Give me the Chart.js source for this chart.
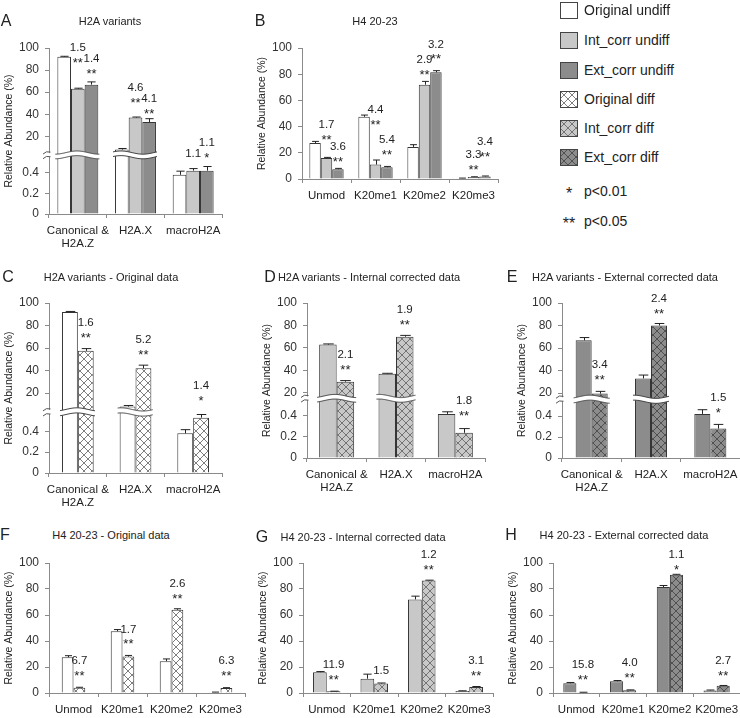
<!DOCTYPE html>
<html>
<head>
<meta charset="utf-8">
<script src="https://cdn.jsdelivr.net/npm/chart.js@4.4.1/dist/chart.umd.min.js"></script>
<style>
    html, body { margin: 0; padding: 0; background: #fff; width: 740px; height: 718px; overflow: hidden; }
    body { position: relative; font-family: "Liberation Sans", Arial, sans-serif; color: #222; }
    canvas.panel { position: absolute; }
    .letter { position: absolute; font-size: 16px; line-height: 1; transform: translate(-50%, -50%); }
    .ptitle { position: absolute; font-size: 11px; line-height: 1; white-space: nowrap; transform: translate(-50%, -50%); }
    .leg { position: absolute; left: 560px; height: 16px; font-size: 14px; line-height: 16px; white-space: nowrap; }
    .leg canvas { position: absolute; left: 0; top: 0; }
    .leg span { position: absolute; left: 24px; top: 0; }
    .leg .star { position: absolute; left: 0; width: 18px; text-align: center; top: 3px; font-size: 16px; }
</style>
</head>
<body>
<script>
/* ==================
    DATOS
================== */

const h2aCats = [["Canonical &", "H2A.Z"], "H2A.X", "macroH2A"];
const h4Cats = ["Unmod", "K20me1", "K20me2", "K20me3"];

// H2A variants, relative abundance (%) and error
const h2aOrigUndiff = [92, 8, 0.38];
const h2aOrigUndiffErr = [0.5, 1, 0.035];
const h2aIntUndiff = [63, 37, 0.42];
const h2aIntUndiffErr = [0.6, 0.5, 0.02];
const h2aExtUndiff = [66.8, 33, 0.42];
const h2aExtUndiffErr = [2.5, 3, 0.04];
const h2aOrigDiff = [57.5, 42, 0.53];
const h2aOrigDiffErr = [2, 2.8, 0.045];
const h2aIntDiff = [30, 70, 0.24];
const h2aIntDiffErr = [1, 1.2, 0.04];
const h2aExtDiff = [19.5, 80, 0.28];
const h2aExtDiffErr = [2, 1.8, 0.04];

// H4 20-23, relative abundance (%) and error
const h4OrigUndiff = [27.5, 47.5, 24.5, 0.6];
const h4OrigUndiffErr = [1.2, 1.3, 1.7, 0.1];
const h4IntUndiff = [16, 11, 72, 1.5];
const h4IntUndiffErr = [0.5, 3.5, 2.5, 0.2];
const h4ExtUndiff = [7.5, 9, 81.5, 2];
const h4ExtUndiffErr = [0.6, 0.6, 1.2, 0.3];
const h4OrigDiff = [4.1, 28, 64, 3.8];
const h4OrigDiffErr = [0.3, 0.9, 0.8, 0.3];
const h4IntDiff = [1.3, 7.3, 86.5, 4.7];
const h4IntDiffErr = [0.1, 0.4, 0.3, 0.3];
const h4ExtDiff = [0.5, 2.2, 91, 5.5];
const h4ExtDiffErr = [0.1, 0.2, 0.3, 0.3];

// tick labels
const brokenTicks = [0, 0.2, 0.4, 20, 40, 60, 80, 100];

// fold change labels: [category, bar, fold, stars, height on the % axis]
const notesA = [[0, 1, "1.5", "**", 89.4], [0, 2, "1.4", "**", 79.4], [1, 1, "4.6", "**", 53.1],
    [1, 2, "4.1", "**", 43.1], [2, 1, "1.1", "", 4], [2, 2, "1.1", "*", 2.9]];
const notesB = [[0, 1, "1.7", "**", 32.1], [0, 2, "3.6", "**", 15.3], [1, 1, "4.4", "**", 43.8],
    [1, 2, "5.4", "**", 20.4], [2, 1, "2.9", "**", 82.1], [2, 2, "3.2", "**", 93.6],
    [3, 1, "3.3", "**", 9.4], [3, 2, "3.4", "**", 19.1]];
const notesC = [[0, 1, "1.6", "**", 71.6], [1, 1, "5.2", "**", 57], [2, 1, "1.4", "*", 15.8]];
const notesD = [[0, 1, "2.1", "**", 42.8], [1, 1, "1.9", "**", 83.4], [2, 1, "1.8", "**", 0.426]];
const notesE = [[0, 1, "3.4", "**", 34.5], [1, 1, "2.4", "**", 92.9], [2, 1, "1.5", "*", 0.457]];
const notesF = [[0, 1, "6.7", "**", 15.6], [1, 1, "1.7", "**", 39.7], [2, 1, "2.6", "**", 74.4], [3, 1, "6.3", "**", 15.6]];
const notesG = [[0, 1, "11.9", "**", 12.3], [1, 1, "1.5", "", 16.9], [2, 1, "1.2", "**", 96.9], [3, 1, "3.1", "**", 15.4]];
const notesH = [[0, 1, "15.8", "**", 12.3], [1, 1, "4.0", "**", 13.8], [2, 1, "1.1", "*", 96.9], [3, 1, "2.7", "**", 15.4]];

/* ==================
    ESTILO
================== */

const FONT = '"Liberation Sans", Arial, sans-serif';
const AXIS = "#8a8a8a";
const EDGE = "#353535";
const WHITE = "#ffffff", LIGHT = "#c8c8c8", DARK = "#8c8c8c";

Chart.defaults.font.family = FONT;
Chart.defaults.color = "#222";

function hatch(fill, line) {
    const c = document.createElement("canvas");
    c.width = 8; c.height = 8;
    const g = c.getContext("2d");
    g.fillStyle = fill;
    g.fillRect(0, 0, 8, 8);
    g.strokeStyle = line;
    g.lineWidth = 0.9;
    g.beginPath();
    g.moveTo(-1, -1); g.lineTo(9, 9);
    g.moveTo(9, -1); g.lineTo(-1, 9);
    g.stroke();
    return g.createPattern(c, "repeat");
}

const WHITE_X = hatch(WHITE, "#707070");
const LIGHT_X = hatch(LIGHT, "#6a6a6a");
const DARK_X = hatch(DARK, "#4a4a4a");

/* ==================
    EJE CORTADO
================== */

class BrokenScale extends Chart.LinearScale {
    static id = "broken";
    static defaults = {};

    getPixelForValue(v) {
        const b = this.options.brk;
        let f;
        if (v <= b.lo) f = (v / b.lo) * b.split;
        else if (v <= b.hi) f = b.split + ((v - b.lo) / (b.hi - b.lo)) * b.gap;
        else f = b.split + b.gap + ((v - b.hi) / (this.max - b.hi)) * (1 - b.split - b.gap);
        return this.bottom - f * (this.bottom - this.top);
    }

    getValueForPixel(p) {
        const b = this.options.brk;
        const f = (this.bottom - p) / (this.bottom - this.top);
        if (f <= b.split) return (f / b.split) * b.lo;
        if (f <= b.split + b.gap) return b.lo + ((f - b.split) / b.gap) * (b.hi - b.lo);
        return b.hi + ((f - b.split - b.gap) / (1 - b.split - b.gap)) * (this.max - b.hi);
    }
}
Chart.register(BrokenScale);

function wave(x, base) {
    return base + 1.6 * Math.sin(x / 7);
}

function drawBands(chart, bars, brk, count) {
    const ctx = chart.ctx;
    const y = chart.scales.y;
    const yHi = y.getPixelForValue(brk.hi);
    const yLo = y.getPixelForValue(brk.lo);
    for (let j = 0; j < count; j++) {
        let l = Infinity, r = -Infinity;
        bars.forEach((s, i) => {
            if (s.data[j] > brk.lo) {
                const el = chart.getDatasetMeta(i).data[j];
                l = Math.min(l, el.x - el.width / 2);
                r = Math.max(r, el.x + el.width / 2);
            }
        });
        if (l > r) continue;
        l -= 2; r += 2;
        ctx.save();
        ctx.beginPath();
        for (let x = l; x <= r; x += 1) ctx.lineTo(x, wave(x, yHi));
        for (let x = r; x >= l; x -= 1) ctx.lineTo(x, wave(x, yLo));
        ctx.closePath();
        ctx.fillStyle = "#fff";
        ctx.fill();
        ctx.strokeStyle = "#444";
        ctx.lineWidth = 1;
        [yHi, yLo].forEach((base) => {
            ctx.beginPath();
            for (let x = l; x <= r; x += 1) ctx.lineTo(x, wave(x, base));
            ctx.stroke();
        });
        ctx.restore();
    }
}

/* ==================
    PANELES
================== */

function crearPanel(box, labels, bars, notes, catPct, brk) {
    const canvas = document.createElement("canvas");
    const left = Math.round(box.x) - 49;
    const top = Math.round(box.y) - 20;
    canvas.width = Math.round(box.r) - left + 6;
    canvas.height = Math.round(box.b) - top + 40;
    canvas.className = "panel";
    canvas.style.left = left + "px";
    canvas.style.top = top + "px";
    document.body.appendChild(canvas);

    const extras = {
        id: "extras",
        afterDatasetsDraw(chart) {
            const ctx = chart.ctx;
            const y = chart.scales.y;
            ctx.save();
            ctx.strokeStyle = "#222";
            ctx.lineWidth = 1;
            bars.forEach((s, i) => {
                chart.getDatasetMeta(i).data.forEach((el, j) => {
                    const yTop = y.getPixelForValue(s.data[j] + s.err[j]);
                    const cap = el.width * 0.3;
                    const x = Math.round(el.x) + 0.5;
                    ctx.beginPath();
                    ctx.moveTo(x, el.y);
                    ctx.lineTo(x, yTop);
                    ctx.moveTo(x - cap, yTop);
                    ctx.lineTo(x + cap, yTop);
                    ctx.stroke();
                });
            });
            ctx.restore();

            if (brk) drawBands(chart, bars, brk, labels.length);

            ctx.save();
            ctx.fillStyle = "#222";
            ctx.textAlign = "center";
            ctx.textBaseline = "middle";
            notes.forEach(([cat, bar, fold, stars, level]) => {
                const el = chart.getDatasetMeta(bar).data[cat];
                const yy = y.getPixelForValue(level);
                if (stars) {
                    ctx.font = "13px " + FONT;
                    ctx.fillText(stars, el.x, yy + 3.5);
                    ctx.font = "11.5px " + FONT;
                    ctx.fillText(fold, el.x, yy - 12);
                } else {
                    ctx.font = "11.5px " + FONT;
                    ctx.fillText(fold, el.x, yy);
                }
            });
            ctx.restore();
        },
        afterDraw(chart) {
            if (!brk) return;
            const ctx = chart.ctx;
            const y = chart.scales.y;
            const ax = chart.chartArea.left;
            const yHi = y.getPixelForValue(brk.hi);
            const yLo = y.getPixelForValue(brk.lo);
            ctx.save();
            ctx.fillStyle = "#fff";
            ctx.fillRect(ax - 6, yHi + 0.5, 8, yLo - yHi - 1);
            ctx.strokeStyle = "#555";
            ctx.lineWidth = 1;
            [yHi, yLo].forEach((yy) => {
                ctx.beginPath();
                ctx.moveTo(ax - 6, yy + 1.5);
                ctx.quadraticCurveTo(ax - 3, yy - 2, ax + 1.5, yy - 0.5);
                ctx.stroke();
            });
            ctx.restore();
        },
    };

    const yScale = {
        min: 0,
        max: 100,
        border: { color: AXIS },
        grid: { drawOnChartArea: false, tickLength: 4, color: AXIS },
        ticks: { color: "#333", font: { size: 12 }, padding: 6 },
        title: {
            display: true,
            text: "Relative Abundance (%)",
            color: "#222",
            font: { size: 10.5 },
            padding: { top: 3, bottom: 0 },
        },
        afterFit: (s) => { s.width = 49; s.paddingTop = 0; s.paddingBottom = 0; },
    };
    if (brk) {
        yScale.type = "broken";
        yScale.brk = brk;
        yScale.ticks.callback = (v) => String(v);
        yScale.afterBuildTicks = (s) => { s.ticks = brokenTicks.map((v) => ({ value: v })); };
    } else {
        yScale.type = "linear";
        yScale.ticks.stepSize = 20;
    }

    new Chart(canvas.getContext("2d"), {
        type: "bar",
        data: {
            labels: labels,
            datasets: bars.map((s) => ({
                data: s.data,
                backgroundColor: s.fill,
                borderColor: EDGE,
                borderWidth: 1,
                categoryPercentage: catPct,
                barPercentage: 1,
            })),
        },
        options: {
            responsive: false,
            animation: false,
            events: [],
            layout: { padding: { top: 20, right: 6, left: 0, bottom: 0 } },
            plugins: { legend: { display: false }, tooltip: { enabled: false } },
            scales: {
                x: {
                    offset: true,
                    border: { color: AXIS },
                    grid: { drawOnChartArea: false, tickLength: 4, color: AXIS, offset: true },
                    ticks: { color: "#222", font: { size: 11.5, lineHeight: 1.15 }, padding: 6, maxRotation: 0, autoSkip: false },
                    afterFit: (s) => { s.height = 40; s.paddingLeft = 0; s.paddingRight = 0; },
                },
                y: yScale,
            },
        },
        plugins: [extras],
    });
}

function texto(cls, txt, x, y) {
    const d = document.createElement("div");
    d.className = cls;
    d.textContent = txt;
    d.style.left = x + "px";
    d.style.top = y + "px";
    document.body.appendChild(d);
}

function serie(data, err, fill) {
    return { data, err, fill };
}

// A
crearPanel({ x: 49, y: 48, r: 222, b: 214 }, h2aCats, [
    serie(h2aOrigUndiff, h2aOrigUndiffErr, WHITE),
    serie(h2aIntUndiff, h2aIntUndiffErr, LIGHT),
    serie(h2aExtUndiff, h2aExtUndiffErr, DARK),
], notesA, 0.71, { lo: 0.55, hi: 5.3, split: 0.342, gap: 0.028 });

// B
crearPanel({ x: 302, y: 48, r: 498, b: 179 }, h4Cats, [
    serie(h4OrigUndiff, h4OrigUndiffErr, WHITE),
    serie(h4IntUndiff, h4IntUndiffErr, LIGHT),
    serie(h4ExtUndiff, h4ExtUndiffErr, DARK),
], notesB, 0.7, null);

// C
crearPanel({ x: 49, y: 303, r: 222, b: 473 }, h2aCats, [
    serie(h2aOrigUndiff, h2aOrigUndiffErr, WHITE),
    serie(h2aOrigDiff, h2aOrigDiffErr, WHITE_X),
], notesC, 0.55, { lo: 0.56, hi: 5.5, split: 0.344, gap: 0.03 });

// D
crearPanel({ x: 307, y: 303, r: 485, b: 458 }, h2aCats, [
    serie(h2aIntUndiff, h2aIntUndiffErr, LIGHT),
    serie(h2aIntDiff, h2aIntDiffErr, LIGHT_X),
], notesD, 0.59, { lo: 0.546, hi: 17.3, split: 0.37, gap: 0.03 });

// E
crearPanel({ x: 562, y: 303, r: 740, b: 458 }, h2aCats, [
    serie(h2aExtUndiff, h2aExtUndiffErr, DARK),
    serie(h2aExtDiff, h2aExtDiffErr, DARK_X),
], notesE, 0.54, { lo: 0.536, hi: 16.7, split: 0.363, gap: 0.032 });

// F
crearPanel({ x: 49, y: 563, r: 245, b: 693 }, h4Cats, [
    serie(h4OrigUndiff, h4OrigUndiffErr, WHITE),
    serie(h4OrigDiff, h4OrigDiffErr, WHITE_X),
], notesF, 0.48, null);

// G
crearPanel({ x: 303, y: 563, r: 493, b: 693 }, h4Cats, [
    serie(h4IntUndiff, h4IntUndiffErr, LIGHT),
    serie(h4IntDiff, h4IntDiffErr, LIGHT_X),
], notesG, 0.58, null);

// H
crearPanel({ x: 553, y: 563, r: 740, b: 693 }, h4Cats, [
    serie(h4ExtUndiff, h4ExtUndiffErr, DARK),
    serie(h4ExtDiff, h4ExtDiffErr, DARK_X),
], notesH, 0.56, null);

/* ==================
    TITULOS
================== */

texto("letter", "A", 6, 21);
texto("ptitle", "H2A variants", 110, 21);
texto("letter", "B", 260, 21);
texto("ptitle", "H4 20-23", 375, 21);
texto("letter", "C", 8, 277);
texto("ptitle", "H2A variants - Original data", 111, 277);
texto("letter", "D", 270, 277);
texto("ptitle", "H2A variants - Internal corrected data", 369, 277);
texto("letter", "E", 512, 277);
texto("ptitle", "H2A variants - External corrected data", 625, 277);
texto("letter", "F", 5, 535);
texto("ptitle", "H4 20-23 - Original data", 111, 535);
texto("letter", "G", 262, 537);
texto("ptitle", "H4 20-23 - Internal corrected data", 363, 537);
texto("letter", "H", 511, 535);
texto("ptitle", "H4 20-23 - External corrected data", 624, 535);

/* ==================
    LEYENDA
================== */

const legendNames = ["Original undiff", "Int_corr undiff", "Ext_corr undiff", "Original diff", "Int_corr diff", "Ext_corr diff"];
const legendFills = [WHITE, LIGHT, DARK, WHITE_X, LIGHT_X, DARK_X];
const legendRows = [10, 40, 70, 99, 128, 157];

legendNames.forEach((name, i) => {
    const row = document.createElement("div");
    row.className = "leg";
    row.style.top = (legendRows[i] - 8) + "px";
    const sw = document.createElement("canvas");
    sw.width = 18; sw.height = 17;
    const g = sw.getContext("2d");
    g.fillStyle = legendFills[i];
    g.fillRect(0.5, 0.5, 17, 16);
    g.strokeStyle = "#444";
    g.lineWidth = 1;
    g.strokeRect(0.5, 0.5, 17, 16);
    const span = document.createElement("span");
    span.textContent = name;
    row.appendChild(sw);
    row.appendChild(span);
    document.body.appendChild(row);
});

[["*", "p<0.01", 191], ["**", "p<0.05", 221]].forEach(([stars, txt, cy]) => {
    const row = document.createElement("div");
    row.className = "leg";
    row.style.top = (cy - 8) + "px";
    const st = document.createElement("div");
    st.className = "star";
    st.textContent = stars;
    const span = document.createElement("span");
    span.textContent = txt;
    row.appendChild(st);
    row.appendChild(span);
    document.body.appendChild(row);
});
</script>
</body>
</html>
